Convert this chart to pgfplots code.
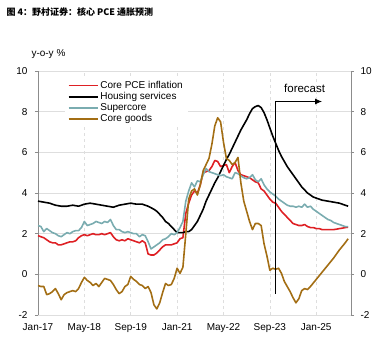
\documentclass[border=0pt]{standalone}
\usepackage{fontspec}
\setmainfont{Liberation Sans}
\newfontfamily\cjk{Noto Sans CJK SC}
\usepackage{pgfplots}
\usepackage{pgfplotstable}
\pgfplotsset{compat=1.18}
\usetikzlibrary{arrows.meta}
\definecolor{pcered}{RGB}{222,32,36}
\definecolor{cteal}{RGB}{122,172,176}
\definecolor{cbrown}{RGB}{163,110,20}
\definecolor{cgrid}{RGB}{222,222,222}
\definecolor{caxis}{RGB}{140,140,140}
\pgfplotsset{
  widelegend/.style={legend image code/.code={\draw[##1] plot coordinates {(0bp,0bp) (14bp,0bp) (29bp,0bp)};}},
}

\pgfplotstableread{
m v
0 1.9
1 1.85
2 1.8
3 1.7
4 1.6
5 1.55
6 1.55
7 1.45
8 1.45
9 1.5
10 1.55
11 1.6
12 1.6
13 1.65
14 1.8
15 1.9
16 1.95
17 1.9
18 1.95
19 2.0
20 1.95
21 1.95
22 2.0
23 1.95
24 2.0
25 2.05
26 1.85
27 1.7
28 1.65
29 1.7
30 1.65
31 1.75
32 1.7
33 1.65
34 1.6
35 1.55
36 1.65
37 1.55
38 1.0
39 0.95
40 0.95
41 1.05
42 1.2
43 1.35
44 1.45
45 1.45
46 1.45
47 1.5
48 1.55
49 1.75
50 1.8
51 3.0
52 3.5
53 3.9
54 4.1
55 4.0
56 4.4
57 5.0
58 5.05
59 5.1
60 5.3
61 5.6
62 5.55
63 5.3
64 5.35
65 5.4
66 5.0
67 5.3
68 5.5
69 5.1
70 4.9
71 4.85
72 4.8
73 4.75
74 4.65
75 4.55
76 4.5
77 4.2
78 4.1
79 3.9
80 3.7
81 3.55
82 3.5
83 3.3
84 3.1
85 2.95
86 2.8
87 2.65
88 2.5
89 2.45
90 2.4
91 2.4
92 2.45
93 2.35
94 2.3
95 2.3
96 2.25
97 2.25
98 2.2
99 2.2
100 2.2
101 2.2
102 2.2
103 2.22
104 2.25
105 2.27
106 2.3
107 2.32
}\corepce

\pgfplotstableread{
m v
0 3.6
2 3.55
4 3.5
6 3.4
8 3.35
10 3.35
12 3.4
14 3.35
16 3.45
18 3.5
20 3.45
22 3.4
24 3.35
26 3.3
28 3.4
30 3.45
32 3.5
34 3.45
36 3.45
38 3.35
40 3.2
41 3.1
42 2.95
43 2.8
44 2.6
45 2.5
46 2.35
47 2.2
48 2.05
49 2.05
50 2.05
51 2.1
52 2.1
53 2.2
54 2.4
55 2.6
56 2.9
57 3.2
58 3.6
59 3.9
60 4.2
61 4.5
62 4.75
63 5.05
64 5.35
65 5.65
66 5.9
67 6.2
68 6.5
69 6.8
70 7.1
71 7.35
72 7.6
73 7.9
74 8.15
75 8.25
76 8.3
77 8.2
78 7.95
79 7.6
80 7.2
81 6.8
82 6.45
83 6.1
84 5.8
85 5.55
86 5.3
87 5.1
88 4.9
89 4.7
90 4.5
91 4.3
92 4.15
93 4.0
94 3.9
95 3.8
96 3.75
97 3.7
98 3.65
100 3.6
102 3.55
104 3.5
106 3.4
107 3.35
}\housing

\pgfplotstableread{
m v
0 2.4
1 2.35
2 2.1
3 2.25
4 2.15
5 2.05
6 2.0
7 1.9
8 1.85
9 1.95
10 2.05
11 2.0
12 2.1
13 2.15
14 2.15
15 2.3
16 2.6
17 2.4
18 2.45
19 2.5
20 2.6
21 2.55
22 2.5
23 2.6
24 2.55
25 2.7
26 2.4
27 2.2
28 2.2
29 2.1
30 2.05
31 2.1
32 2.05
33 2.0
34 2.0
35 1.85
36 1.95
37 1.9
38 1.6
39 1.25
40 1.35
41 1.45
42 1.55
43 1.7
44 1.75
45 1.85
46 2.0
47 1.95
48 2.05
49 2.3
50 2.6
51 3.6
52 4.1
53 4.5
54 4.3
55 4.6
56 4.55
57 4.9
58 5.2
59 5.05
60 5.0
61 4.95
62 4.9
63 4.85
64 4.9
65 4.8
66 4.75
67 4.7
68 5.0
69 4.95
70 4.85
71 4.75
72 4.7
73 4.75
74 4.9
75 4.65
76 4.55
77 4.7
78 4.4
79 4.2
80 4.05
81 3.95
82 3.85
83 3.7
84 3.6
85 3.5
86 3.4
87 3.35
88 3.35
89 3.3
90 3.35
91 3.3
92 3.45
93 3.3
94 3.35
95 3.2
96 3.1
97 3.0
98 2.9
99 2.8
100 2.7
101 2.65
102 2.55
103 2.5
104 2.45
105 2.4
106 2.35
107 2.35
}\supercore

\pgfplotstableread{
m v
0 -0.55
1 -0.6
2 -0.6
3 -1.0
4 -0.95
5 -0.85
6 -0.7
7 -0.95
8 -1.25
9 -1.0
10 -0.9
11 -0.85
12 -0.8
13 -0.85
14 -0.7
15 -0.4
16 -0.15
17 -0.3
18 -0.4
19 -0.55
20 -0.45
21 -0.6
22 -0.4
23 -0.2
24 -0.25
25 -0.3
26 -0.5
27 -0.75
28 -0.95
29 -0.85
30 -0.6
31 -0.5
32 -0.1
33 -0.25
34 -0.35
35 -0.5
36 -0.55
37 -0.7
38 -0.6
39 -0.9
40 -1.5
41 -1.7
42 -1.4
43 -0.9
44 -0.45
45 -0.55
46 -0.5
47 -0.2
48 0.3
49 0.05
50 0.35
51 2.0
52 3.7
53 4.1
54 4.2
55 3.9
56 4.4
57 5.1
58 5.4
59 5.7
60 6.4
61 7.3
62 7.7
63 7.5
64 6.5
65 5.7
66 5.6
67 5.4
68 5.5
69 5.75
70 4.5
71 3.6
72 3.1
73 2.6
74 2.2
75 2.5
76 2.5
77 2.4
78 1.5
79 0.9
80 0.2
81 0.3
82 0.25
83 0.3
84 0.05
85 -0.35
86 -0.6
87 -0.85
88 -1.15
89 -1.4
90 -1.2
91 -0.8
92 -0.7
93 -0.75
94 -0.6
96 -0.25
98 0.1
100 0.45
102 0.8
104 1.2
106 1.55
107 1.75
}\coregoods

\begin{document}
\begin{tikzpicture}
\path[use as bounding box] (-38bp,-31bp) rectangle (342bp,315bp);
\begin{axis}[
  at={(0,0)}, anchor=south west,
  scale only axis, width=313bp, height=244bp,
  xmin=0, xmax=108, ymin=-2, ymax=10,
  xtick={0,16,32,48,64,80,96},
  xticklabels={Jan-17,May-18,Sep-19,Jan-21,May-22,Sep-23,Jan-25},
  ytick={-2,0,2,4,6,8,10},
  axis x line*=bottom, axis y line*=left,
  x axis line style={draw=none},
  y axis line style={draw=caxis, line width=0.9pt},
  tick style={draw=caxis, line width=0.8pt},
  xtick style={draw=none},
  tick align=outside, major tick length=3bp,
  ymajorgrids, xmajorgrids,
  y grid style={cgrid, line width=0.6pt},
  x grid style={cgrid, dashed, line width=0.6pt},
  /pgf/number format/assume math mode=true,
  tick label style={font=\fontsize{10bp}{12bp}\selectfont},
  yticklabel style={xshift=-4bp},
  xticklabel style={yshift=-2bp},
  legend style={at={(0.085,0.975)}, anchor=north west, draw=none,
    nodes={font=\fontsize{10bp}{12bp}\selectfont}, row sep=-1.5bp},
  legend cell align=left,
  widelegend,
]
\addplot[pcered, line width=1.6pt, line join=round] table[x=m,y=v] {\corepce};
\addlegendentry{Core PCE inflation}
\addplot[black, line width=1.6pt, line join=round] table[x=m,y=v] {\housing};
\addlegendentry{Housing services}
\addplot[cteal, line width=1.6pt, line join=round] table[x=m,y=v] {\supercore};
\addlegendentry{Supercore}
\addplot[cbrown, line width=1.6pt, line join=round] table[x=m,y=v] {\coregoods};
\addlegendentry{Core goods}
\addplot[black, line width=0.8pt, -{Latex[length=7bp,width=6bp]}, forget plot] coordinates {(82,-0.95) (82,8.5) (98,8.5)};
\node[font=\fontsize{11.5bp}{13bp}\selectfont] at (axis cs:92,9.15) {forecast};
\end{axis}
\begin{axis}[
  at={(0,0)}, anchor=south west,
  scale only axis, width=313bp, height=244bp,
  xmin=0, xmax=108, ymin=-2, ymax=10,
  ytick={-2,0,2,4,6,8,10},
  axis y line*=right, axis x line=none,
  y axis line style={draw=caxis, line width=0.9pt},
  tick style={draw=caxis, line width=0.8pt},
  tick align=outside, major tick length=3bp,
  /pgf/number format/assume math mode=true,
  tick label style={font=\fontsize{10bp}{12bp}\selectfont},
  yticklabel style={xshift=3bp},
]
\end{axis}
\node[anchor=west, font=\cjk\bfseries\fontsize{9bp}{11bp}\selectfont] at (-35bp,303bp) {图 4：野村证券：核心 PCE 通胀预测};
\node[anchor=west, font=\fontsize{10bp}{12bp}\selectfont] at (-10bp,261bp) {y-o-y \%};
\end{tikzpicture}
\end{document}
